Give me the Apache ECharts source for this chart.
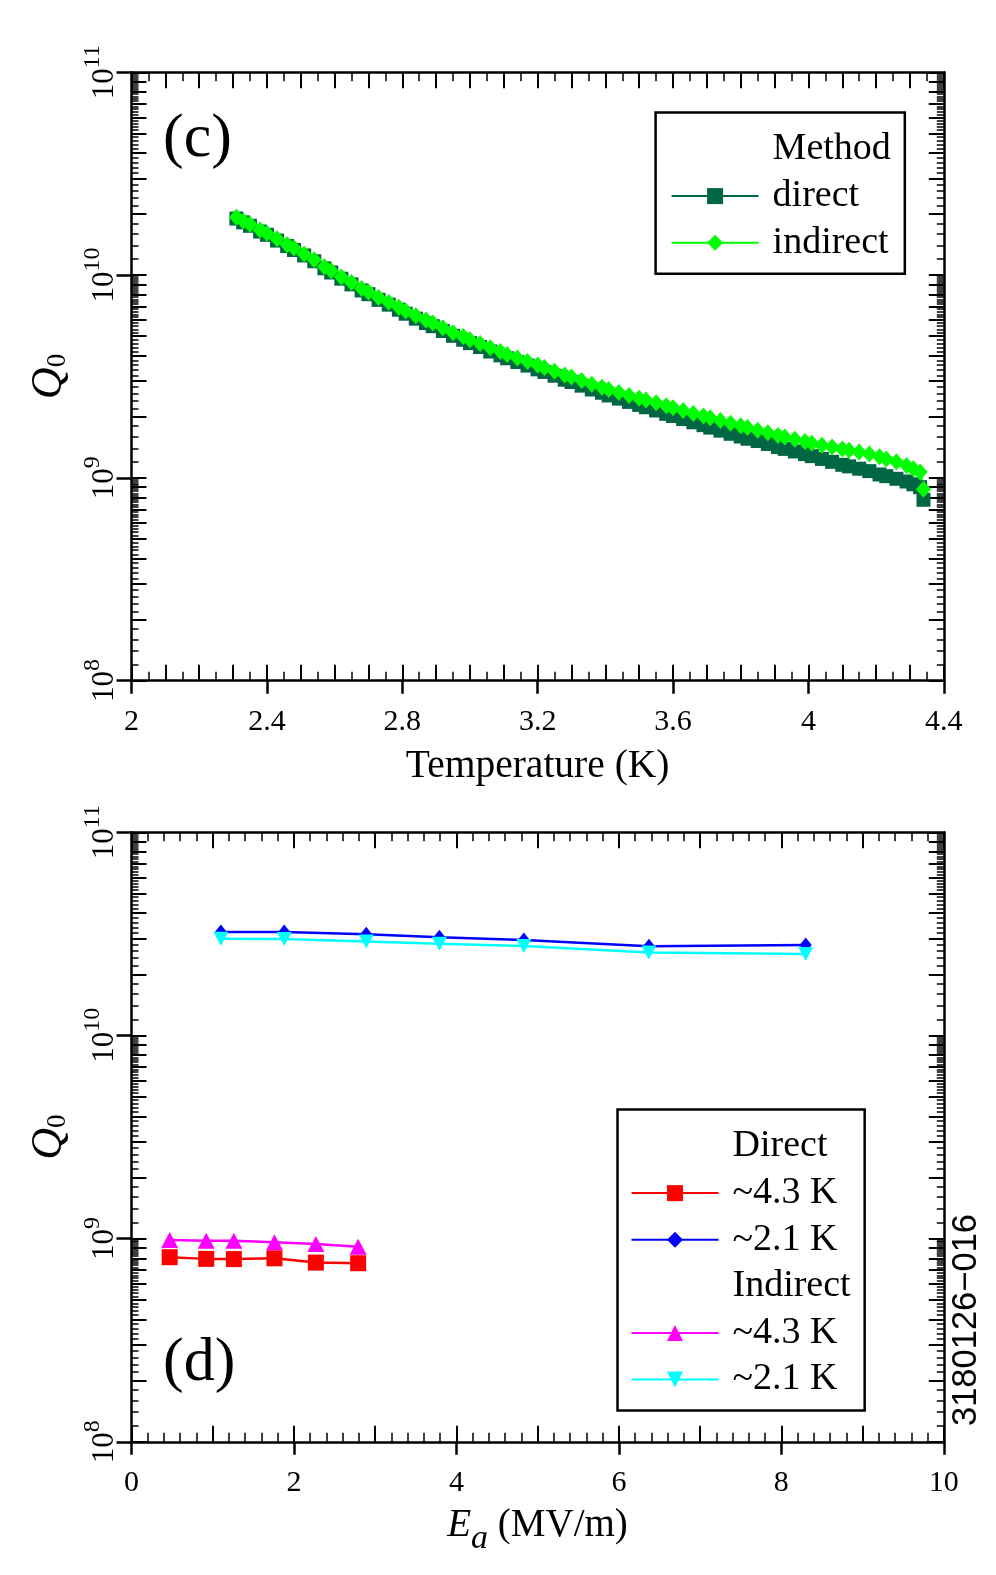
<!DOCTYPE html>
<html>
<head>
<meta charset="utf-8">
<title>Q0 vs T and Ea</title>
<script src="https://cdn.jsdelivr.net/npm/echarts@6/dist/echarts.min.js"></script>
<style>
  html, body { margin: 0; padding: 0; background: #fff; }
  #chart { width: 996px; height: 1575px; }
</style>
</head>
<body>
<div id="chart"></div>
<script>
// ---- panel (c): Q0 vs temperature ----
var tempK = [2.31, 2.33, 2.35, 2.38, 2.40, 2.43, 2.46, 2.48, 2.51, 2.54, 2.57, 2.59, 2.62, 2.65, 2.68, 2.70,
  2.73, 2.76, 2.79, 2.81, 2.84, 2.87, 2.89, 2.92, 2.95, 2.98, 3.00, 3.03, 3.06, 3.09, 3.11, 3.14, 3.17, 3.20,
  3.22, 3.25, 3.28, 3.30, 3.33, 3.36, 3.39, 3.41, 3.44, 3.47, 3.50, 3.52, 3.55, 3.58, 3.60, 3.63, 3.66, 3.69,
  3.71, 3.74, 3.77, 3.80, 3.82, 3.85, 3.88, 3.91, 3.93, 3.96, 3.99, 4.01, 4.04, 4.07, 4.10, 4.12, 4.15, 4.18,
  4.21, 4.23, 4.26, 4.29, 4.31, 4.33, 4.34];
// Q0 in units of 1e9
var q0Direct = [19.0, 18.2, 17.5, 16.4, 15.8, 14.8, 13.9, 13.3, 12.5, 11.7, 10.8, 10.3, 9.6, 9.0, 8.4, 8.05,
  7.55, 7.15, 6.75, 6.45, 6.1, 5.8, 5.6, 5.3, 5.02, 4.8, 4.62, 4.42, 4.2, 4.02, 3.89, 3.73, 3.58, 3.43,
  3.33, 3.19, 3.05, 2.97, 2.85, 2.73, 2.63, 2.55, 2.46, 2.37, 2.29, 2.23, 2.15, 2.07, 2.02, 1.95, 1.88, 1.82,
  1.77, 1.71, 1.65, 1.60, 1.56, 1.52, 1.47, 1.42, 1.39, 1.35, 1.31, 1.28, 1.24, 1.20, 1.16, 1.14, 1.11, 1.08,
  1.04, 1.02, 0.99, 0.96, 0.93, 0.90, 0.78];
var q0Indirect = [19.3, 18.5, 17.8, 16.7, 16.1, 15.1, 14.1, 13.6, 12.7, 11.9, 11.0, 10.5, 9.8, 9.2, 8.6, 8.25,
  7.75, 7.35, 6.95, 6.65, 6.3, 6.0, 5.8, 5.5, 5.2, 4.98, 4.8, 4.6, 4.38, 4.2, 4.06, 3.9, 3.75, 3.6,
  3.5, 3.36, 3.22, 3.14, 3.02, 2.9, 2.8, 2.73, 2.64, 2.55, 2.47, 2.42, 2.35, 2.27, 2.22, 2.15, 2.08, 2.02,
  1.98, 1.92, 1.86, 1.81, 1.77, 1.72, 1.67, 1.62, 1.59, 1.55, 1.51, 1.48, 1.45, 1.42, 1.39, 1.37, 1.34, 1.31,
  1.27, 1.24, 1.20, 1.15, 1.11, 1.07, 0.88];

// ---- panel (d): Q0 vs accelerating field ----
var ea43 = [0.47, 0.92, 1.26, 1.76, 2.27, 2.79];
var q0Direct43 = [0.81, 0.795, 0.793, 0.80, 0.762, 0.757];     // 1e9
var q0Indirect43 = [0.985, 0.977, 0.977, 0.959, 0.94, 0.913];  // 1e9
var ea21 = [1.10, 1.88, 2.89, 3.79, 4.83, 6.37, 8.30];
var q0Direct21 = [32.3, 32.3, 31.5, 30.4, 29.5, 27.5, 27.9];   // 1e9
var q0Indirect21 = [29.9, 29.8, 29.0, 28.3, 27.6, 25.6, 25.2]; // 1e9

var tempTickLabels = ['2', '2.4', '2.8', '3.2', '3.6', '4', '4.4'];
var eaTickLabels = ['0', '2', '4', '6', '8', '10'];

// log tick positions: decades + 2..9, and 0.2 steps in between
var logMinorTicks = [];
var logSubTicks = [];
for (var d = 8; d <= 10; d++) {
  for (var k = 1; k <= 9; k++) {
    logMinorTicks.push(k * Math.pow(10, d));
    for (var j = 1; j <= 4; j++) logSubTicks.push(Math.round((k + j * 0.2) * 10) * Math.pow(10, d - 1));
  }
}
logMinorTicks.push(1e11);

var FONT = 'Liberation Serif';
var BLACK = '#000';

function pairs(xs, ys) {
  return xs.map(function (x, i) { return [x, ys[i] * 1e9]; });
}

function xAxes(grid, min, max, major, mid, minorSplit, labels, name, nameGap, nameStyle) {
  var line = { show: true, onZero: false, lineStyle: { color: BLACK, width: 2.5 } };
  var common = { gridIndex: grid, type: 'value', min: min, max: max, splitLine: { show: false } };
  return [
    Object.assign({}, common, {
      position: 'bottom', interval: major, axisLine: line,
      axisTick: { show: true, inside: false, length: 13, lineStyle: { color: BLACK, width: 2.5 } },
      axisLabel: {
        margin: 26, color: BLACK, fontFamily: FONT, fontSize: 30,
        formatter: function (v) { return labels[Math.round((v - min) / major)]; }
      },
      name: name, nameLocation: 'middle', nameGap: nameGap, nameTextStyle: nameStyle
    }),
    Object.assign({}, common, {
      position: 'bottom', interval: mid, axisLine: { show: false, onZero: false },
      axisTick: { show: true, inside: true, length: 16, lineStyle: { color: BLACK, width: 2 } },
      minorTick: { show: true, splitNumber: minorSplit, length: 9, lineStyle: { color: BLACK, width: 1.5 } },
      axisLabel: { show: false }
    }),
    Object.assign({}, common, {
      position: 'top', interval: mid, axisLine: line,
      axisTick: { show: true, inside: true, length: 16, lineStyle: { color: BLACK, width: 2 } },
      minorTick: { show: true, splitNumber: minorSplit, length: 9, lineStyle: { color: BLACK, width: 1.5 } },
      axisLabel: { show: false }
    })
  ];
}

function yAxes(grid) {
  var line = { show: true, onZero: false, lineStyle: { color: BLACK, width: 2.5 } };
  var common = {
    gridIndex: grid, type: 'log', logBase: 10, min: 1e8, max: 1e11,
    splitLine: { show: false }, axisLabel: { show: false }, axisLine: { show: false, onZero: false }
  };
  function ticks(pos, len, w, values) {
    return Object.assign({}, common, {
      position: pos,
      axisTick: { show: true, inside: true, length: len, customValues: values, lineStyle: { color: BLACK, width: w } }
    });
  }
  var main = Object.assign({}, common, {
    position: 'left', axisLine: line,
    axisTick: { show: true, inside: false, length: 15, lineStyle: { color: BLACK, width: 2.5 } },
    axisLabel: {
      show: true, rotate: 90, margin: 11, color: BLACK,
      // spacer token z sets the line height so the exponent sits raised
      formatter: function (v) { return '{z| }{b|10}{s|' + Math.round(Math.log10(v)) + '}'; },
      rich: {
        z: { fontSize: 1, lineHeight: 40 },
        b: { fontFamily: FONT, fontSize: 31, lineHeight: 31, verticalAlign: 'bottom', color: BLACK },
        s: { fontFamily: FONT, fontSize: 24, lineHeight: 24, verticalAlign: 'top', color: BLACK }
      }
    },
    name: '{q|Q}{s|0}', nameLocation: 'middle', nameRotate: 90, nameGap: 60,
    nameTextStyle: {
      rich: {
        q: { fontFamily: FONT, fontStyle: 'italic', fontSize: 44, lineHeight: 44, verticalAlign: 'top', color: BLACK },
        s: { fontFamily: FONT, fontSize: 27, lineHeight: 27, verticalAlign: 'bottom', color: BLACK }
      }
    }
  });
  var right = ticks('right', 15, 2, logMinorTicks);
  right.axisLine = line;
  return [
    main,
    ticks('left', 15, 2, logMinorTicks),
    ticks('left', 7, 1.5, logSubTicks),
    right,
    ticks('right', 7, 1.5, logSubTicks)
  ];
}

var legendText = {
  Method: 'Method', direct: 'direct', indirect: 'indirect',
  Direct: 'Direct', d43: '~4.3 K', d21: '~2.1 K',
  Indirect: 'Indirect', i43: '~4.3 K', i21: '~2.1 K'
};
var legendBase = {
  orient: 'vertical', selectedMode: false, itemWidth: 87, itemHeight: 20, itemGap: 6.6,
  borderColor: BLACK, borderWidth: 2.5, backgroundColor: '#fff',
  formatter: function (n) { return legendText[n]; },
  textStyle: { fontFamily: FONT, fontSize: 38, lineHeight: 40, color: BLACK, padding: [0, 0, 0, 9] }
};

function header(name, xi, yi) {
  return { name: name, type: 'line', data: [], xAxisIndex: xi, yAxisIndex: yi, symbol: 'none', lineStyle: { width: 0 } };
}
function lineSeries(name, data, xi, yi, color, symbol, size, rotate) {
  return {
    name: name, type: 'line', data: data, xAxisIndex: xi, yAxisIndex: yi,
    symbol: symbol, symbolSize: size, symbolRotate: rotate || 0, showAllSymbol: true,
    itemStyle: { color: color }, lineStyle: { color: color, width: 2.5 }, z: 3
  };
}

var chart = echarts.init(document.getElementById('chart'));
var option = {
  animation: false,
  backgroundColor: '#fff',
  grid: [
    { left: 131.5, top: 72.3, width: 812.3, height: 608.4, outerBoundsMode: 'none' },
    { left: 131.5, top: 832.3, width: 812.3, height: 609.5, outerBoundsMode: 'none' }
  ],
  xAxis: xAxes(0, 2, 4.4, 0.4, 0.1, 2, tempTickLabels, 'Temperature (K)', 66,
      { fontFamily: FONT, fontSize: 39.5, color: BLACK })
    .concat(xAxes(1, 0, 10, 2, 1, 5, eaTickLabels, '{e|E}{a|a}{t| (MV/m)}{z| }', 64, {
      rich: {
        e: { fontFamily: FONT, fontStyle: 'italic', fontSize: 39, lineHeight: 39, verticalAlign: 'top', color: BLACK },
        a: { fontFamily: FONT, fontStyle: 'italic', fontSize: 34, lineHeight: 34, verticalAlign: 'bottom', color: BLACK },
        t: { fontFamily: FONT, fontSize: 39, lineHeight: 39, verticalAlign: 'top', color: BLACK },
        z: { fontSize: 1, lineHeight: 50 }
      }
    })),
  yAxis: yAxes(0).concat(yAxes(1)),
  legend: [
    Object.assign({}, legendBase, {
      left: 655.6, top: 112.5, padding: [17, 14, 11, 15],
      data: [{ name: 'Method', icon: 'none' }, 'direct', 'indirect']
    }),
    Object.assign({}, legendBase, {
      left: 617.5, top: 1109.5, padding: [17, 14, 11, 13],
      data: [{ name: 'Direct', icon: 'none' }, 'd43', 'd21', { name: 'Indirect', icon: 'none' }, 'i43', 'i21']
    })
  ],
  graphic: [
    { type: 'text', x: 163, y: 140, style: { text: '(c)', fontFamily: FONT, fontSize: 62, fill: BLACK, verticalAlign: 'middle' } },
    { type: 'text', x: 163, y: 1364, style: { text: '(d)', fontFamily: FONT, fontSize: 62, fill: BLACK, verticalAlign: 'middle' } },
    { type: 'text', x: 966, y: 1320, rotation: Math.PI / 2,
      style: { text: '3180126\u2212016', fontFamily: 'Liberation Sans', fontSize: 34.5, fill: BLACK, align: 'center', verticalAlign: 'middle' } }
  ],
  series: [
    header('Method', 0, 0),
    lineSeries('direct', pairs(tempK, q0Direct), 0, 0, '#006644', 'rect', 14),
    lineSeries('indirect', pairs(tempK, q0Indirect), 0, 0, '#00ff00', 'diamond', [15, 17]),
    header('Direct', 3, 5),
    lineSeries('d43', pairs(ea43, q0Direct43), 3, 5, '#ff0000', 'rect', 16),
    lineSeries('d21', pairs(ea21, q0Direct21), 3, 5, '#0000ff', 'diamond', [12, 15]),
    header('Indirect', 3, 5),
    lineSeries('i43', pairs(ea43, q0Indirect43), 3, 5, '#ff00ff', 'triangle', [17, 16]),
    lineSeries('i21', pairs(ea21, q0Indirect21), 3, 5, '#00ffff', 'triangle', [15, 14], 180)
  ]
};
chart.setOption(option);
</script>
</body>
</html>
